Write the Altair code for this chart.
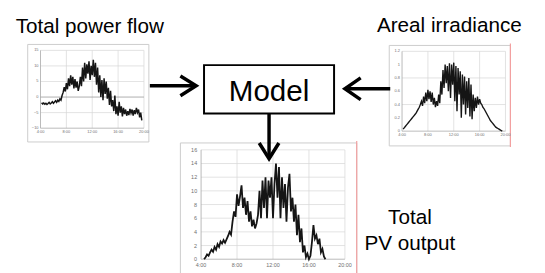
import altair as alt
import pandas as pd

# ------------------------------------------------------------------ data
STEP = 10 / 60  # readings every 10 minutes

# Total power flow (left small chart), from 4:10 to 19:40
flow_start = 4 + 10 / 60
flow_values = [
    -1.8, -2.2, -1.9, -2.3, -2.0, -2.4,
    -2.1, -1.7, -2.2, -1.9, -1.5, -2.0,
    -1.6, -1.2, -1.7, -1.0, -1.4, -0.6,
    -1.0, 0.5, 1.5, 3.2, 1.8, 4.5,
    2.5, 6.0, 3.5, 7.0, 4.0, 6.5,
    2.8, 5.8, 3.0, 5.0, 2.0, 3.5,
    6.5, 3.5, 9.5, 5.0, 11.0, 6.0,
    10.5, 7.5, 11.5, 5.5, 10.0, 7.0,
    12.0, 6.5, 11.0, 4.0, 9.5, 1.5,
    7.0, 0.0, 5.5, -1.0, 6.0, 1.0,
    5.0, -0.5, 3.0, -2.5, 2.0, -3.0,
    -1.0, -4.5, 0.5, -5.5, -3.0, -6.0,
    -1.5, -5.0, -3.0, -6.2, -3.5, -5.5,
    -4.0, -6.0, -4.5, -5.8, -3.8, -5.2,
    -4.0, -6.0, -4.2, -5.5, -3.5, -5.0,
    -4.0, -6.5, -5.0, -7.5,
]

# Areal irradiance (right small chart), from 4:10 to 19:30
irr_start = 4 + 10 / 60
irr_values = [
    0.03, 0.05, 0.07, 0.09, 0.11, 0.13,
    0.15, 0.17, 0.19, 0.21, 0.23, 0.25,
    0.27, 0.30, 0.33, 0.36, 0.40, 0.45,
    0.38, 0.52, 0.42, 0.58, 0.45, 0.62,
    0.48, 0.60, 0.44, 0.58, 0.40, 0.50,
    0.36, 0.45, 0.38, 0.55, 0.42, 0.75,
    0.55, 0.92, 0.65, 1.00, 0.72, 0.98,
    0.60, 1.02, 0.50, 1.00, 0.70, 1.03,
    0.45, 0.98, 0.30, 0.95, 0.55, 0.90,
    0.20, 0.85, 0.40, 0.82, 0.25, 0.75,
    0.35, 0.80, 0.22, 0.70, 0.18, 0.55,
    0.30, 0.50, 0.35, 0.52, 0.40, 0.48,
    0.42, 0.40, 0.36, 0.34, 0.31, 0.28,
    0.25, 0.22, 0.19, 0.16, 0.14, 0.12,
    0.10, 0.08, 0.06, 0.05, 0.04, 0.03,
    0.02, 0.01, 0.0,
]

# Total PV output (bottom chart), from 4:20 to 17:50
pv_start = 4 + 20 / 60
pv_values = [
    0.0, 0.3, 0.7, 0.5, 1.0,
    1.4, 1.1, 1.8, 1.4, 2.2, 1.8,
    2.6, 2.3, 2.8, 2.4, 2.9, 3.4,
    4.0, 3.6, 5.5, 7.0, 6.2, 9.5,
    7.8, 9.2, 10.8, 7.5, 9.0, 6.5,
    8.5, 5.5, 7.0, 4.8, 5.8, 4.5,
    5.2, 6.5, 10.0, 6.0, 11.5, 7.5,
    12.0, 6.0, 11.5, 9.0, 12.0, 6.0,
    11.0, 14.0, 9.0, 13.5, 6.0, 12.0,
    7.5, 11.0, 5.5, 10.5, 12.5, 7.0,
    9.0, 5.5, 8.0, 3.5, 6.5, 2.5,
    4.5, 1.0, 2.0, 0.3, 0.8, 0.0,
    0.5, 2.5, 5.0, 3.0, 3.5, 2.2,
    3.0, 1.0, 1.5, 0.4, 0.0,
]

hour_ticks = [4, 8, 12, 16, 20]
hour_labels = ["4:00", "8:00", "12:00", "16:00", "20:00"]
flow_ticks = [-10, -5, 0, 5, 10, 15]
irr_ticks = [0, 0.2, 0.4, 0.6, 0.8, 1.0, 1.2]
pv_ticks = [0, 2, 4, 6, 8, 10, 12, 14, 16]

labels_text = ["Total power flow", "Areal irradiance", "Model", "Total", "PV output"]

# ------------------------------------------------------------------ layout
W, H = 537, 265
M = 8
FONT = "Liberation Sans"

cx = alt.Scale(domain=[M, 545], range=[0, W], nice=False, zero=False)
cy = alt.Scale(domain=[M, 273], range=[0, H], nice=False, zero=False)


def series_frame(start, values):
    return pd.DataFrame({"t": [start + i * STEP for i in range(len(values))], "v": values})


def mini(df, xr, yr, ydom, yticks, yfmt, hgrid, fs, xpad, ypad, zero_line=False, lw=1.4):
    xs = alt.Scale(domain=[4, 20], range=[xr[0] - M, xr[1] - M], nice=False, zero=False)
    ys = alt.Scale(domain=ydom, range=[yr[0] - M, yr[1] - M], nice=False, zero=False)

    def X(f):
        return alt.X(f, scale=xs, axis=None)

    def Y(f):
        return alt.Y(f, scale=ys, axis=None)

    vg = pd.DataFrame({"h": [8, 12, 16, 20], "lo": [ydom[0]] * 4, "hi": [ydom[1]] * 4})
    hg = pd.DataFrame({"v": hgrid, "a": [4] * len(hgrid), "b": [20] * len(hgrid)})
    layers = [
        alt.Chart(vg).mark_rule(color="#d6d6d6", strokeWidth=0.7).encode(
            x=X("h:Q"), y=Y("lo:Q"), y2="hi:Q"),
        alt.Chart(hg).mark_rule(color="#d6d6d6", strokeWidth=0.7).encode(
            x=X("a:Q"), x2="b:Q", y=Y("v:Q")),
    ]
    # axis lines
    ax = pd.DataFrame({"a": [4, 4], "b": [4, 20], "lo": [ydom[0], ydom[0]], "hi": [ydom[1], ydom[0]]})
    layers.append(alt.Chart(ax).mark_rule(color="#a8a8a8", strokeWidth=0.8).encode(
        x=X("a:Q"), x2="b:Q", y=Y("lo:Q"), y2="hi:Q"))
    if zero_line:
        zl = pd.DataFrame({"v": [0], "a": [4], "b": [20]})
        layers.append(alt.Chart(zl).mark_rule(color="#9a9a9a", strokeWidth=0.8).encode(
            x=X("a:Q"), x2="b:Q", y=Y("v:Q")))
    # tick labels
    ylab = pd.DataFrame({"v": yticks, "h": [4] * len(yticks)})
    layers.append(alt.Chart(ylab).mark_text(
        align="right", baseline="middle", dx=-ypad, fontSize=fs, color="#707070", font=FONT
    ).encode(x=X("h:Q"), y=Y("v:Q"), text=alt.Text("v:Q", format=yfmt)))
    xlab = pd.DataFrame({"h": hour_ticks, "v": [ydom[0]] * len(hour_ticks), "lab": hour_labels})
    layers.append(alt.Chart(xlab).mark_text(
        align="center", baseline="top", dy=xpad, fontSize=fs, color="#707070", font=FONT
    ).encode(x=X("h:Q"), y=Y("v:Q"), text="lab:N"))
    # data trace
    layers.append(alt.Chart(df).mark_line(color="#151515", strokeWidth=lw).encode(
        x=X("t:Q"), y=Y("v:Q")))
    return alt.layer(*layers)


# background panels (frames of the small charts)
frames = pd.DataFrame({"x": [28, 395, 183], "x2": [151, 518, 362],
                       "y": [43, 44, 143], "y2": [142, 146, 280]})
pink = pd.DataFrame({"x": [518, 362], "y": [42, 141], "y2": [147, 280]})

back = alt.layer(
    alt.Chart(frames).mark_rect(fill="white", stroke="#cccccc", strokeWidth=1).encode(
        x=alt.X("x:Q", scale=cx, axis=None), x2="x2:Q",
        y=alt.Y("y:Q", scale=cy, axis=None), y2="y2:Q"),
    alt.Chart(pink).mark_rule(color="#f2a0a0", strokeWidth=1.2).encode(
        x=alt.X("x:Q", scale=cx, axis=None),
        y=alt.Y("y:Q", scale=cy, axis=None), y2="y2:Q"),
)

flow_chart = mini(series_frame(flow_start, flow_values), (41, 146), (128, 49), [-10, 15],
                  flow_ticks, "d", [-5, 5, 10, 15], 4, 2, 2, zero_line=True, lw=1.5)
irr_chart = mini(series_frame(irr_start, irr_values), (408, 513), (131, 50), [0, 1.2],
                 irr_ticks, ".1~f", [0.4, 0.8, 1.2], 4, 2, 2, lw=1.4)
pv_chart = mini(series_frame(pv_start, pv_values), (204, 350), (261, 150), [0, 16],
                pv_ticks, "d", [2, 4, 6, 8, 10, 12, 14, 16], 5.5, 4, 4, lw=1.8)

# box, arrows, texts
box = pd.DataFrame({"x": [207], "x2": [339], "y": [64], "y2": [113]})
arrows = pd.DataFrame({
    "id": ["a", "a", "ah", "ah", "ah", "b", "b", "bh", "bh", "bh", "c", "c", "ch", "ch", "ch"],
    "o": [0, 1, 0, 1, 2, 0, 1, 0, 1, 2, 0, 1, 0, 1, 2],
    "x": [152, 198, 183, 199, 183, 396, 351, 366, 350, 366, 273, 273, 263, 273, 283],
    "y": [85, 85, 75, 85, 95, 88, 88, 77, 88, 99, 113, 158, 143, 159, 143],
})
texts = pd.DataFrame({
    "label": labels_text,
    "x": [91, 456, 273, 416, 416],
    "y": [31, 30, 100, 225, 252],
    "fs": [21, 21, 30, 21, 21],
})

front = alt.layer(
    alt.Chart(box).mark_rect(fill="white", stroke="black", strokeWidth=2).encode(
        x=alt.X("x:Q", scale=cx, axis=None), x2="x2:Q",
        y=alt.Y("y:Q", scale=cy, axis=None), y2="y2:Q"),
    alt.Chart(arrows).mark_line(color="black", strokeWidth=3.5, strokeJoin="miter",
                                strokeCap="butt").encode(
        x=alt.X("x:Q", scale=cx, axis=None),
        y=alt.Y("y:Q", scale=cy, axis=None),
        detail="id:N", order="o:Q"),
    alt.Chart(texts).mark_text(font=FONT, color="black", align="center",
                               baseline="alphabetic").encode(
        x=alt.X("x:Q", scale=cx, axis=None),
        y=alt.Y("y:Q", scale=cy, axis=None),
        text="label:N",
        size=alt.Size("fs:Q", scale=None, legend=None)),
)

chart = alt.layer(back, flow_chart, irr_chart, pv_chart, front).resolve_scale(
    x="independent", y="independent"
).properties(
    width=W, height=H, padding=0, autosize=alt.AutoSizeParams(type="none"),
    background="white",
).configure_view(stroke=None)

chart.save("out.html", embed_options={"renderer": "svg", "actions": False})
